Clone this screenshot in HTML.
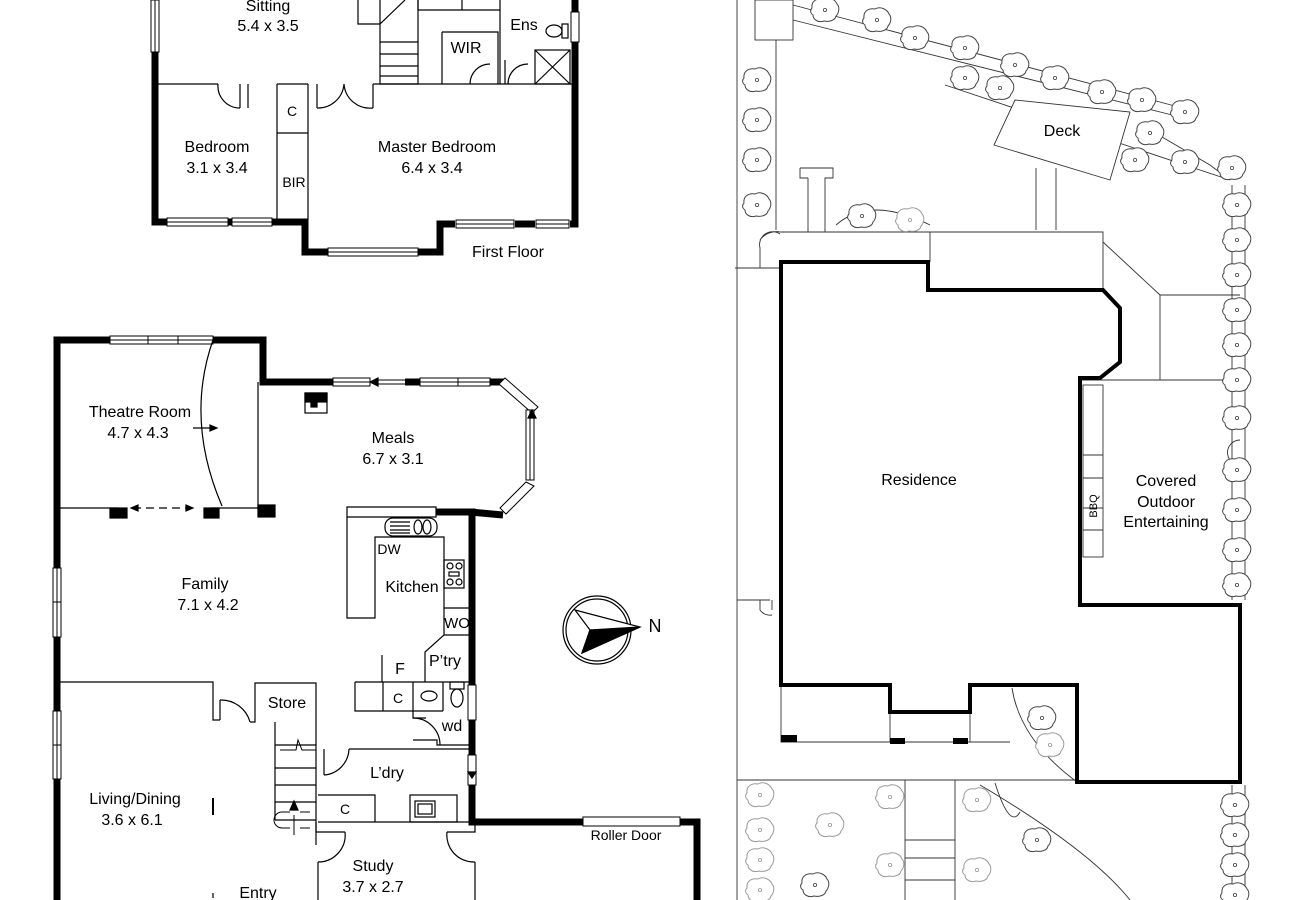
<!DOCTYPE html>
<html><head><meta charset="utf-8"><style>
html,body{margin:0;padding:0;background:#fff;}
svg{display:block}
text{font-family:"Liberation Sans",Arial,sans-serif;fill:#000;}
</style></head><body>
<svg width="1300" height="900" viewBox="0 0 1300 900" xmlns="http://www.w3.org/2000/svg">
<defs>
<g id="tr"><path d="M-13,-2 C-14,-9 -8,-12 -2,-11 C3,-14 10,-11 12,-6 C15,-3 14,3 11,6 C10,11 3,12 -1,11 C-6,13 -12,10 -12,5 C-15,3 -15,0 -13,-2 Z" fill="#fff" stroke="#444" stroke-width="1"/><circle r="1.6" fill="none" stroke="#444" stroke-width="0.8"/></g>
<g id="tg"><path d="M-13,-2 C-14,-9 -8,-12 -2,-11 C3,-14 10,-11 12,-6 C15,-3 14,3 11,6 C10,11 3,12 -1,11 C-6,13 -12,10 -12,5 C-15,3 -15,0 -13,-2 Z" fill="#fff" stroke="#999" stroke-width="1"/><circle r="1.6" fill="none" stroke="#999" stroke-width="0.8"/></g>
</defs>
<g fill="none" stroke="#000" stroke-width="1.2">
<path d="M155,52 V222 H305 V252 H328 M418,252 H440 V224 H455 M515,224 H535 M570,224 H575 V0" stroke-width="7"/>
<g stroke-width="1" fill="#fff">
<rect x="151" y="0" width="8" height="52"/><line x1="155" y1="0" x2="155" y2="52"/>
<rect x="167" y="218" width="61" height="8"/><line x1="167" y1="222" x2="228" y2="222"/>
<rect x="232" y="218" width="40" height="8"/><line x1="232" y1="222" x2="272" y2="222"/>
<rect x="328" y="248" width="90" height="8"/><line x1="328" y1="252" x2="418" y2="252"/>
<rect x="456" y="220" width="58" height="8"/><line x1="456" y1="224" x2="514" y2="224"/>
<rect x="536" y="220" width="33" height="8"/><line x1="536" y1="224" x2="569" y2="224"/>
<rect x="571" y="12" width="8" height="30"/>
</g>
<path d="M158,84 H218 M240,84 V108 M248,84 V108 M277,84 V220 M308,84 V220 M277,133 H308 M277,84 H308 M317,84 V108 M373,84 V108 M373,84 H573"/>
<path d="M218,84 A22,22 0 0 0 240,108 M317,108 A26,26 0 0 0 344,84 M344,84 A26,26 0 0 0 373,108"/>
<path d="M358,0 V24 H380 M380,0 V84 H418 V0 M380,42 H418 M380,54 H418 M380,66 H418 M380,76 H418 M380,24 L405,0"/>
<path d="M418,10 H500 M442,32 H498 V84 M442,32 V84 M418,0 V10 M462,0 V10 M500,0 V84 M505,60 V84 M470,84 A20,20 0 0 1 490,64 M508,84 A20,20 0 0 1 528,64"/>
<rect x="535" y="50" width="35" height="34"/><path d="M535,50 L570,84 M570,50 L535,84"/>
<ellipse cx="554" cy="31" rx="8" ry="6"/><rect x="562" y="24" width="6" height="14"/>
<path d="M57,900 V340 H110 M213,340 H263 V382 H333 M405,382 H420 M490,382 H505" stroke-width="7"/>
<path d="M436,512 H472 V685 M472,720 V755 M472,785 V822 H583 M680,822 H697 V900" stroke-width="7"/>
<path d="M503,515 L470,512" stroke-width="7"/>
<g stroke-width="1" fill="#fff">
<rect x="110" y="336" width="103" height="8"/><line x1="110" y1="340" x2="213" y2="340"/><line x1="148" y1="336" x2="148" y2="344"/><line x1="178" y1="336" x2="178" y2="344"/>
<rect x="333" y="378" width="37" height="8"/><line x1="333" y1="382" x2="370" y2="382"/>
<line x1="378" y1="380" x2="405" y2="380"/><line x1="378" y1="384" x2="405" y2="384"/>
<rect x="420" y="378" width="70" height="8"/><line x1="420" y1="382" x2="490" y2="382"/><line x1="458" y1="378" x2="458" y2="386"/>
<path d="M505,378 L538,407 L532,413 L499,384 Z"/>
<rect x="526" y="410" width="8" height="70"/><line x1="530" y1="410" x2="530" y2="480"/>
<path d="M526,482 L534,486 L506,514 L500,508 Z"/>
<rect x="53" y="568" width="8" height="69"/><rect x="53" y="711" width="8" height="68"/>
<line x1="53" y1="602" x2="61" y2="602"/><line x1="53" y1="745" x2="61" y2="745"/>
<line x1="57" y1="568" x2="57" y2="637"/><line x1="57" y1="711" x2="57" y2="779"/>
<rect x="468" y="685" width="8" height="35"/><rect x="468" y="755" width="8" height="30"/>
<rect x="583" y="817" width="97" height="9"/>
</g>
<polygon points="370,382 378,378 378,386" fill="#000"/>
<polygon points="532,410 536,418 528,418" fill="#000"/>
<polygon points="472,778 468,772 476,772" fill="#000"/>
<path d="M258,382 V510 M57,508 H118 M211,508 H270"/>
<rect x="110" y="508" width="17" height="10" fill="#000"/><rect x="204" y="508" width="15" height="10" fill="#000"/><rect x="258" y="505" width="17" height="12" fill="#000"/>
<path d="M213,340 Q185,420 222,506"/>
<path d="M133,508 H188" stroke-dasharray="8,5"/>
<polygon points="131,508 138,505 138,511" fill="#000"/><polygon points="193,508 186,505 186,511" fill="#000"/>
<path d="M193,428 H213"/><polygon points="217,428 210,425 210,431" fill="#000"/>
<rect x="305" y="393" width="22" height="20"/><rect x="305" y="393" width="22" height="9" fill="#000"/><rect x="311" y="402" width="6" height="5" fill="#000"/>
<path d="M347,507 H436 V517 H347 Z M347,517 V618 H375 V537 H444 V608 M444,608 H470 M444,608 V635 L425,652 V682 M444,635 H470 M382,655 V682"/>
<rect x="385" y="518" width="52" height="18" rx="8"/><path d="M390,522 H410 M390,526 H410 M390,530 H410 M390,533 H410"/><ellipse cx="418" cy="527" rx="4" ry="7"/><ellipse cx="427" cy="527" rx="4" ry="7"/>
<rect x="444" y="560" width="20" height="28"/><circle cx="450" cy="566" r="3"/><circle cx="459" cy="566" r="3"/><circle cx="450" cy="582" r="3"/><circle cx="459" cy="582" r="3"/><rect x="449" y="572" width="10" height="4"/>
<path d="M355,682 H470 M355,682 V711 H413 M383,682 V711 M413,682 V718 H426 M413,711 H443 M443,682 V711"/>
<ellipse cx="429" cy="696" rx="8" ry="5"/>
<ellipse cx="457" cy="698" rx="6" ry="9"/><rect x="450" y="682" width="14" height="7"/>
<path d="M413,718 A27,27 0 0 1 440,745 M413,740 H437 V745 H470"/>
<path d="M57,682 H213 V720 H220 M220,700 V720 M220,700 A30,30 0 0 1 250,722 M250,722 H255 V683 H316 V845 M275,722 V820 M275,745 H316 M275,768 H316 M275,785 H316 M275,802 H316 M275,820 H316"/>
<path d="M280,750 L296,750 L298,740 L302,750 L316,750" stroke-width="1"/>
<path d="M294,815 V835 M282,812 A8,8 0 0 0 282,828 M282,812 H290 M300,812 H310 M282,828 H290 M300,828 H310" stroke-width="1"/>
<polygon points="294,801 290,810 298,810" fill="#000"/>
<path d="M213,798 V815" stroke-width="2"/>
<path d="M324,749 V775 M324,775 A27,27 0 0 0 349,749 M349,749 H470 M318,795 H375 V822 M318,822 H472"/>
<rect x="410" y="795" width="47" height="27"/><rect x="415" y="801" width="20" height="16"/><rect x="418" y="804" width="14" height="10"/>
<path d="M316,822 V832 H345 M447,832 H475 V822 M318,862 V900 M475,862 V900 M345,832 A27,27 0 0 1 318,862 M447,832 A27,27 0 0 0 475,862"/>
<path d="M213,893 V898"/>
<circle cx="597" cy="630" r="34"/><circle cx="597" cy="630" r="31"/>
<polygon points="575,610 640,627 582,653 590,630" fill="#fff" stroke="#000"/>
<polygon points="590,630 640,627 582,653" fill="#000"/>
<g stroke-width="0.9" stroke="#333">
<path d="M737,0 V900 M735,268 H781 M737,600 H770 M760,600 V610 A12,12 0 0 0 772,615 M772,610 V600"/>
<path d="M760,268 V248 A13,13 0 0 1 780,234 M760,240 A20,20 0 0 1 780,232"/>
<rect x="755" y="0" width="38" height="40"/>
<path d="M776,40 V230"/>
<path d="M800,168 H833 V178 H825 V232 M808,178 H800 V168 M808,178 V232"/>
<path d="M780,232 H1103 V290 M930,232 V262 M1103,242 L1160,295 M1160,295 H1240 M1160,295 V380 M1080,380 H1240"/>
<path d="M836,225 Q870,195 930,225"/>
<path d="M793,5 L1190,110 M793,20 L1192,120"/>
<path d="M945,85 L1230,180 M1150,130 L1210,165 L1230,180"/>
<polygon points="994,145 1015,100 1130,112 1110,180" fill="#fff"/>
<path d="M1036,168 V230 M1056,168 V230"/>
<path d="M1232,185 V600 M1245,185 V600"/>
<path d="M1240,440 A12,12 0 0 0 1240,465"/>
<rect x="1083" y="385" width="20" height="172"/><path d="M1083,455 H1103 M1083,478 H1103 M1083,508 H1103 M1083,530 H1103"/>
<path d="M781,685 V742 H890 M890,712 V742 H970 V712 M970,742 H1010 M1012,688 Q1020,740 1077,782 M737,780 H1077"/>
<path d="M905,780 V900 M955,780 V900 M905,840 H955 M905,858 H955 M905,880 H955"/>
<path d="M995,783 Q1010,830 1020,812 M980,785 Q1090,850 1130,900" />
<path d="M1232,785 V900 M1245,785 V900"/>
</g>
<rect x="781" y="735" width="16" height="7" fill="#000" stroke="none"/><rect x="890" y="738" width="15" height="6" fill="#000" stroke="none"/><rect x="953" y="738" width="15" height="6" fill="#000" stroke="none"/>
<path d="M781,262 H928 V290 H1103 L1120,308 V362 L1100,378 H1080 V605 H1240 V782 H1077 V685 H970 V712 H890 V685 H781 Z" stroke-width="4"/>
</g>
<g>
<use href="#tr" x="825" y="10"/><use href="#tr" x="877" y="20"/><use href="#tr" x="915" y="38"/><use href="#tr" x="965" y="48"/><use href="#tr" x="1015" y="65"/><use href="#tr" x="1055" y="78"/><use href="#tr" x="1102" y="92"/><use href="#tr" x="1142" y="100"/><use href="#tr" x="1185" y="112"/>
<use href="#tr" x="965" y="78"/><use href="#tr" x="1000" y="88"/><use href="#tr" x="1150" y="133"/><use href="#tr" x="1135" y="160"/><use href="#tr" x="1185" y="162"/><use href="#tr" x="1232" y="168"/>
<use href="#tr" x="757" y="80"/><use href="#tr" x="757" y="120"/><use href="#tr" x="757" y="160"/><use href="#tr" x="757" y="205"/>
<use href="#tr" x="862" y="216"/><use href="#tg" x="910" y="220"/>
<use href="#tr" x="1237" y="205"/><use href="#tr" x="1237" y="240"/><use href="#tr" x="1237" y="275"/><use href="#tr" x="1237" y="310"/><use href="#tr" x="1237" y="345"/><use href="#tr" x="1237" y="380"/><use href="#tr" x="1237" y="418"/><use href="#tr" x="1237" y="470"/><use href="#tr" x="1237" y="510"/><use href="#tr" x="1237" y="550"/><use href="#tr" x="1237" y="585"/>
<use href="#tr" x="1042" y="718"/><use href="#tg" x="1050" y="745"/>
<use href="#tg" x="760" y="795"/><use href="#tg" x="760" y="830"/><use href="#tg" x="760" y="860"/><use href="#tg" x="760" y="890"/><use href="#tg" x="830" y="825"/><use href="#tg" x="890" y="797"/><use href="#tg" x="890" y="865"/><use href="#tr" x="815" y="885"/><use href="#tg" x="977" y="800"/><use href="#tr" x="1037" y="840"/><use href="#tg" x="977" y="870"/>
<use href="#tr" x="1235" y="805"/><use href="#tr" x="1235" y="835"/><use href="#tr" x="1235" y="865"/><use href="#tr" x="1235" y="895"/>
</g>
<g font-size="16" text-anchor="middle">
<text x="268" y="11">Sitting</text><text x="268" y="31">5.4 x 3.5</text>
<text x="217" y="152">Bedroom</text><text x="217" y="173">3.1 x 3.4</text>
<text x="292" y="116" font-size="14">C</text><text x="294" y="187" font-size="14">BIR</text>
<text x="437" y="152">Master Bedroom</text><text x="432" y="173">6.4 x 3.4</text>
<text x="466" y="53">WIR</text><text x="524" y="30">Ens</text>
<text x="508" y="257">First Floor</text>
<text x="140" y="417">Theatre Room</text><text x="138" y="438">4.7 x 4.3</text>
<text x="393" y="443">Meals</text><text x="393" y="464">6.7 x 3.1</text>
<text x="205" y="589">Family</text><text x="208" y="610">7.1 x 4.2</text>
<text x="389" y="554" font-size="14">DW</text><text x="412" y="592">Kitchen</text>
<text x="457" y="628" font-size="15">WO</text><text x="445" y="666">P’try</text>
<text x="400" y="674">F</text><text x="398" y="703" font-size="14">C</text>
<text x="452" y="731">wd</text><text x="287" y="708">Store</text>
<text x="387" y="778">L’dry</text><text x="345" y="814" font-size="14">C</text>
<text x="135" y="804">Living/Dining</text><text x="132" y="825">3.6 x 6.1</text>
<text x="258" y="898">Entry</text>
<text x="373" y="871">Study</text><text x="373" y="892">3.7 x 2.7</text>
<text x="626" y="840" font-size="14">Roller Door</text>
<text x="655" y="632" font-size="18">N</text>
<text x="1062" y="136">Deck</text>
<text x="919" y="485">Residence</text>
<text x="1166" y="486">Covered</text><text x="1166" y="507">Outdoor</text><text x="1166" y="527">Entertaining</text>
<text x="0" y="0" font-size="11" transform="translate(1097,506) rotate(-90)">BBQ</text>
</g>
</svg>
</body></html>
